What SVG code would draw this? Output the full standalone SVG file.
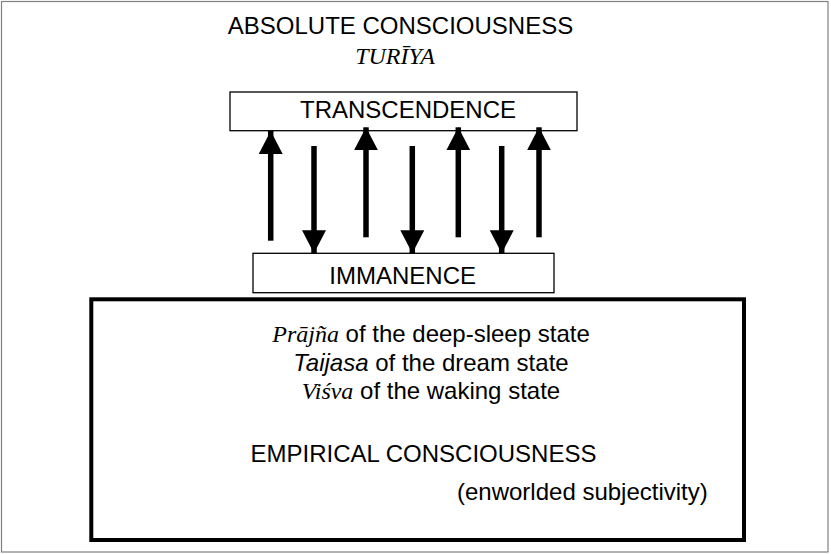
<svg xmlns="http://www.w3.org/2000/svg" width="831" height="554" viewBox="0 0 831 554">
  <style>
    .sans { font-family: "Liberation Sans", Arial, sans-serif; font-size: 24px; fill: #000; }
    .serif-it { font-family: "Liberation Serif", "Times New Roman", serif; font-style: italic; }
    .sans-it { font-style: italic; }
    .box { fill: #fff; stroke: #000; stroke-width: 1.3; }
    .arrow { stroke: #000; stroke-width: 5.5; fill: none; marker-end: url(#ah); }
  </style>
  <defs>
    <marker id="ah" markerUnits="userSpaceOnUse" viewBox="0 0 23 24" markerWidth="23" markerHeight="24" refX="23" refY="12" orient="auto">
      <path d="M0,0 L23,12 L0,24 z" fill="#000"/>
    </marker>
  </defs>
  <rect x="0" y="0" width="831" height="554" fill="#fff"/>
  <rect x="1.5" y="1.5" width="826.5" height="550.5" fill="none" stroke="#808080" stroke-width="1.2"/>

  <g id="absolute">
    <text class="sans" x="400.5" y="34" text-anchor="middle">ABSOLUTE CONSCIOUSNESS</text>
    <text class="sans serif-it" x="395" y="64" text-anchor="middle">TURĪYA</text>
  </g>

  <g id="transcendence">
    <rect class="box" x="230" y="92" width="347" height="38.7"/>
    <text class="sans" x="408" y="118" text-anchor="middle">TRANSCENDENCE</text>
  </g>

  <g id="immanence">
    <rect class="box" x="253" y="253.3" width="301" height="39.4"/>
    <text class="sans" x="402.7" y="284" text-anchor="middle">IMMANENCE</text>
  </g>

  <g id="empirical">
    <rect x="91.3" y="299.3" width="652.7" height="240.7" fill="#fff" stroke="#000" stroke-width="4"/>
    <text class="sans" x="431" y="342" text-anchor="middle"><tspan class="serif-it">Prājña</tspan> of the deep-sleep state</text>
    <text class="sans" x="431" y="370.5" text-anchor="middle"><tspan class="sans-it">Taijasa</tspan> of the dream state</text>
    <text class="sans" x="431" y="398.5" text-anchor="middle"><tspan class="serif-it">Viśva</tspan> of the waking state</text>
    <text class="sans" x="423.5" y="461.5" text-anchor="middle">EMPIRICAL CONSCIOUSNESS</text>
    <text class="sans" x="457" y="499.5">(enworlded subjectivity)</text>
  </g>

  <g id="connectors">
    <line class="arrow" x1="270.7" y1="240.7" x2="270.7" y2="131"/>
    <line class="arrow" x1="314" y1="146" x2="314" y2="253.3"/>
    <line class="arrow" x1="366" y1="237.3" x2="366" y2="127.3"/>
    <line class="arrow" x1="412.3" y1="146" x2="412.3" y2="253.3"/>
    <line class="arrow" x1="458.3" y1="237.3" x2="458.3" y2="127.3"/>
    <line class="arrow" x1="501.7" y1="146" x2="501.7" y2="253.3"/>
    <line class="arrow" x1="539" y1="237.3" x2="539" y2="127.3"/>
  </g>
</svg>
